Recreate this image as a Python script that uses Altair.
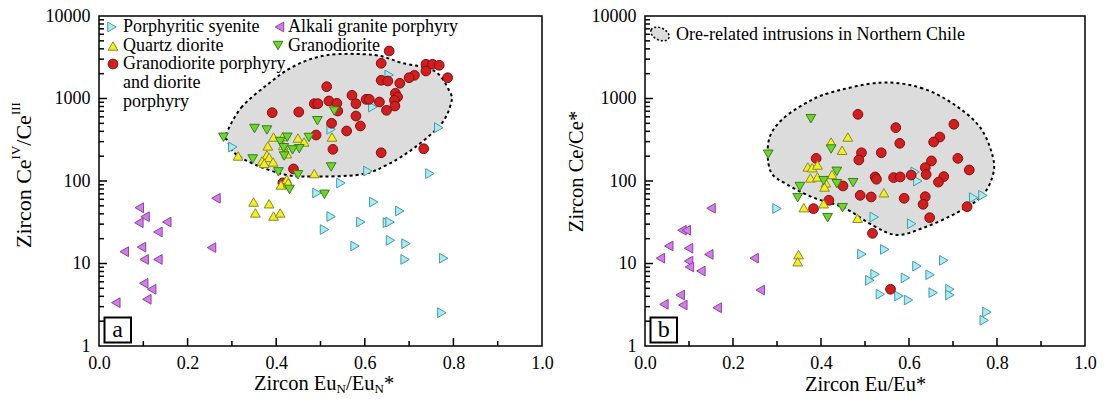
import altair as alt
import pandas as pd

# ---------------- data ----------------
# Panel a: Zircon EuN/EuN* vs Ce(IV)/Ce(III)
a_syen_x = [0.302, 0.618, 0.655, 0.524, 0.767, 0.607, 0.546, 0.747, 0.492, 0.620, 0.679,
            0.524, 0.591, 0.651, 0.657, 0.509, 0.578, 0.658, 0.693, 0.691, 0.778, 0.774]
a_syen_y = [258, 789, 1928, 423, 443, 132, 94.5, 123, 71.6, 55.6, 43.3,
            37.1, 31.8, 31.2, 31.8, 25.8, 16.3, 19.1, 17.4, 11.2, 11.6, 2.53]

a_alk_x = [0.091, 0.104, 0.090, 0.153, 0.133, 0.264, 0.057, 0.096, 0.102, 0.133, 0.254,
           0.101, 0.119, 0.108, 0.038]
a_alk_y = [47.5, 36.9, 31.2, 31.8, 24.1, 61.7, 13.9, 15.8, 11.2, 11.2, 15.6,
           5.75, 4.87, 3.68, 3.35]

a_qd_x = [0.526, 0.394, 0.415, 0.449, 0.463, 0.381, 0.416, 0.424, 0.379, 0.384, 0.314, 0.368,
          0.373, 0.393, 0.486, 0.424, 0.411, 0.427, 0.349, 0.384, 0.353, 0.394, 0.409]
a_qd_y = [341, 341, 346, 332, 297, 266, 269, 214, 207, 193, 201, 175,
          164, 170, 123, 105, 89.5, 95, 55.6, 53, 41, 37.6, 41]

a_gd_x = [0.531, 0.493, 0.351, 0.379, 0.281, 0.425, 0.474, 0.409, 0.452, 0.437, 0.417,
          0.418, 0.347, 0.405, 0.449, 0.524, 0.430, 0.509]
a_gd_y = [705, 538, 433, 415, 339, 339, 337, 301, 246, 238, 253,
          201, 185, 129, 119, 148, 79, 69]

a_gp_x = [0.655, 0.637, 0.738, 0.753, 0.768, 0.738, 0.787, 0.712, 0.700, 0.637,
          0.652, 0.679, 0.514, 0.669, 0.674, 0.571, 0.603, 0.610, 0.633, 0.667,
          0.519, 0.537, 0.580, 0.486, 0.494, 0.668, 0.649, 0.539, 0.391, 0.451,
          0.580, 0.525, 0.590, 0.559, 0.490, 0.528, 0.637, 0.733, 0.439, 0.415]
a_gp_y = [3767, 2672, 2600, 2600, 2525, 2154, 1786, 1910, 1786, 1662,
          1630, 1528, 1390, 1156, 1043, 1093, 977, 977, 907, 951,
          933, 875, 865, 865, 865, 811, 719, 705, 673, 686,
          613, 501, 464, 404, 361, 242, 220, 246, 140, 95]

a_reg_x = [0.287, 0.321, 0.381, 0.441, 0.516, 0.621, 0.682, 0.757, 0.791, 0.795,
           0.772, 0.712, 0.652, 0.591, 0.479, 0.418, 0.351, 0.305, 0.291]
a_reg_y = [368, 773, 1487, 2477, 3365, 3365, 2716, 2154, 1233, 889,
           487, 253, 159, 120, 113, 120, 159, 220, 305]

# Panel b: Zircon Eu/Eu* vs Ce/Ce*
b_syen_x = [0.300, 0.521, 0.606, 0.620, 0.614, 0.747, 0.768, 0.493, 0.545, 0.679, 0.511, 0.523,
            0.535, 0.577, 0.599, 0.618, 0.592, 0.648, 0.655, 0.693, 0.693, 0.777, 0.771]
b_syen_y = [46.4, 36.6, 30.3, 100, 129, 62.8, 67.1, 13.0, 14.8, 10.9, 6.26, 7.4,
            4.24, 4.04, 3.61, 9.3, 6.7, 7.3, 4.43, 4.87, 4.15, 2.58, 2.05]

b_alk_x = [0.150, 0.084, 0.094, 0.054, 0.099, 0.145, 0.035, 0.099, 0.101, 0.127, 0.248,
           0.262, 0.080, 0.043, 0.086, 0.164]
b_alk_y = [46.7, 25.3, 25.3, 16.3, 15.3, 12.9, 11.6, 10.7, 9.07, 8.11, 11.6,
           4.77, 4.15, 3.20, 3.14, 2.91]

b_qd_x = [0.423, 0.461, 0.448, 0.370, 0.380, 0.392, 0.376, 0.392, 0.411, 0.408, 0.425,
          0.543, 0.361, 0.406, 0.483, 0.349, 0.347]
b_qd_y = [297, 341, 236, 148, 145, 156, 109, 112, 95, 84.6, 120,
          72, 47.5, 53, 35.3, 12.8, 10.5]

b_gd_x = [0.377, 0.280, 0.423, 0.436, 0.406, 0.473, 0.436, 0.352, 0.347, 0.449, 0.415]
b_gd_y = [569, 211, 244, 131, 101, 95.4, 92.7, 85.7, 62.8, 47.5, 35.9]

b_gp_x = [0.484, 0.570, 0.579, 0.702, 0.670, 0.656, 0.492, 0.486, 0.537, 0.389,
          0.711, 0.737, 0.651, 0.637, 0.639, 0.679, 0.667, 0.605, 0.565, 0.580,
          0.523, 0.526, 0.450, 0.489, 0.514, 0.589, 0.637, 0.632, 0.418, 0.383,
          0.732, 0.647, 0.517, 0.558]
b_gp_y = [643, 443, 286, 487, 341, 297, 220, 180, 220, 188,
          188, 136, 175, 145, 120, 113, 97, 118, 110, 112,
          112, 105, 87, 67, 64, 61.7, 64.5, 52.2, 58.4, 46.2,
          48.8, 35.9, 23.2, 4.87]

b_reg_x = [0.535, 0.626, 0.702, 0.762, 0.791, 0.789, 0.762, 0.702, 0.633, 0.573,
           0.520, 0.452, 0.383, 0.323, 0.285, 0.281, 0.308, 0.361, 0.421]
b_reg_y = [1557, 1352, 851, 443, 192, 110, 62.8, 39.5, 27.1, 22.2,
           28.5, 47.5, 62.8, 91, 132, 305, 534, 851, 1176]

# axis ticks / labels
x_label_vals = [0.0, 0.2, 0.4, 0.6, 0.8, 1.0]
x_major = [0.2, 0.4, 0.6, 0.8]
x_minor = [0.1, 0.3, 0.5, 0.7, 0.9]
y_label_vals = [1, 10, 100, 1000, 10000]
y_major = [10, 100, 1000]
y_minor = [m * d for d in [1, 10, 100, 1000] for m in range(2, 10)]

legend_a_names = ["Porphyritic syenite", "Alkali granite porphyry", "Quartz diorite",
                  "Granodiorite", "Granodiorite porphyry", "and diorite", "porphyry"]
legend_b_name = "Ore-related intrusions in Northern Chile"

# ---------------- styling ----------------
FONT = "'Liberation Serif', 'Times New Roman', 'DejaVu Serif', serif"
WA, WB, H = 443, 440, 330
SIZE = 95

STYLE = {
    "syen": dict(shape="triangle-right", fill="#a6ecf3", stroke="#4f98a3"),
    "alk": dict(shape="triangle-left", fill="#d47ce8", stroke="#8a44a3"),
    "qd": dict(shape="triangle-up", fill="#f4ef1e", stroke="#8b8a2b"),
    "gd": dict(shape="triangle-down", fill="#6dd62d", stroke="#3b7d1d"),
    "gp": dict(shape="circle", fill="#d21e1e", stroke="#7d1111"),
}

xs = alt.Scale(domain=[0, 1], nice=False, zero=False)
ys = alt.Scale(type="log", domain=[1, 10000], nice=False)
ONE = pd.DataFrame({"k": [0]})


def axis_x(title=None):
    kw = dict(values=x_label_vals, format=".1f", ticks=False, tickSize=0, domain=False,
              grid=False, labelFont=FONT, labelFontSize=18, labelColor="black",
              labelPadding=8.5, labelFlush=False, labelOverlap=False)
    if title:
        kw.update(title=title, titleFont=FONT, titleFontSize=20.5, titleFontWeight="normal",
                  titleColor="black", titleBaseline="alphabetic", titleY=44)
    else:
        kw.update(title="")
    return alt.Axis(**kw)


def axis_y(title=None):
    kw = dict(values=y_label_vals, format="d", ticks=False, tickSize=0, domain=False,
              grid=False, labelFont=FONT, labelFontSize=18, labelColor="black",
              labelPadding=9, labelFlush=False, labelOverlap=False)
    if title:
        kw.update(title=title, titleFont=FONT, titleFontSize=20.5, titleFontWeight="normal",
                  titleColor="black", titleAngle=270, titleBaseline="alphabetic",
                  titleAlign="center", titleX=-63, titleY=155)
    else:
        kw.update(title="")
    return alt.Axis(**kw)


def make_panel(xt, yt):
    AX, AY = axis_x(xt), axis_y(yt)

    def enc_x(field):
        return alt.X(field, type="quantitative", scale=xs, axis=AX)

    def enc_y(field):
        return alt.Y(field, type="quantitative", scale=ys, axis=AY)

    def region(xv, yv):
        df = pd.DataFrame({"x": xv, "y": yv, "i": list(range(len(xv)))})
        return alt.Chart(df).mark_line(
            interpolate="cardinal-closed", fill="#dcdcdc", stroke="black",
            strokeWidth=2, strokeDash=[3, 3]
        ).encode(x=enc_x("x"), y=enc_y("y"), order=alt.Order("i:Q"))

    def pts(xv, yv, key):
        st = STYLE[key]
        df = pd.DataFrame({"x": xv, "y": yv})
        return alt.Chart(df).mark_point(
            shape=st["shape"], size=SIZE, filled=True, fill=st["fill"], stroke=st["stroke"],
            strokeWidth=1, opacity=1, fillOpacity=1
        ).encode(x=enc_x("x"), y=enc_y("y"))

    def ticks():
        layers = []
        for vals, ln in [(x_major, 8), (x_minor, 5)]:
            layers.append(alt.Chart(pd.DataFrame({"x": vals})).mark_rule(color="black", strokeWidth=1.5)
                          .encode(x=enc_x("x"), y=alt.value(H), y2=alt.value(H - ln)))
        for vals, ln in [(y_major, 8), (y_minor, 5)]:
            layers.append(alt.Chart(pd.DataFrame({"y": vals})).mark_rule(color="black", strokeWidth=1.5)
                          .encode(y=enc_y("y"), x=alt.value(0), x2=alt.value(ln)))
        return layers

    return region, pts, ticks


def txt(s, x, y, size, angle=0, align="left", baseline="alphabetic"):
    return alt.Chart(ONE).mark_text(
        text=s, font=FONT, fontSize=size, angle=angle, align=align, baseline=baseline, color="black"
    ).encode(x=alt.value(x), y=alt.value(y))


def sym(key, x, y):
    st = STYLE[key]
    return alt.Chart(ONE).mark_point(
        shape=st["shape"], size=SIZE, filled=True, fill=st["fill"], stroke=st["stroke"],
        strokeWidth=1, opacity=1
    ).encode(x=alt.value(x), y=alt.value(y))


def label_box(letter):
    box = alt.Chart(ONE).mark_rect(fill="white", stroke="black", strokeWidth=2).encode(
        x=alt.value(5.5), x2=alt.value(32), y=alt.value(301.5), y2=alt.value(326.5))
    return [box, txt(letter, 18.7, 321, 24, align="center")]


# ---------------- panel a ----------------
region_a, pts_a, ticks_a = make_panel(None, None)
layers_a = [region_a(a_reg_x, a_reg_y)] + ticks_a() + [
    pts_a(a_syen_x, a_syen_y, "syen"),
    pts_a(a_gp_x, a_gp_y, "gp"),
    pts_a(a_qd_x, a_qd_y, "qd"),
    pts_a(a_gd_x, a_gd_y, "gd"),
    pts_a(a_alk_x, a_alk_y, "alk"),
    # legend
    sym("syen", 13, 11), txt(legend_a_names[0], 24, 15.7, 18),
    sym("alk", 180.5, 11), txt(legend_a_names[1], 189, 15.7, 18),
    sym("qd", 14, 30), txt(legend_a_names[2], 24, 34.5, 18),
    sym("gd", 179, 29.5), txt(legend_a_names[3], 189, 34.5, 18),
    sym("gp", 14, 48), txt(legend_a_names[4], 24, 53.3, 18),
    txt(legend_a_names[5], 24, 72.2, 18),
    txt(legend_a_names[6], 24, 91, 18),
] + label_box("a") + [
    # x title: Zircon EuN/EuN*
    txt("Zircon Eu", 155, 374, 20.5),
    txt("N", 237.6, 377, 13),
    txt("/Eu", 247, 374, 20.5),
    txt("N", 275.5, 377, 13),
    txt("*", 284.9, 374, 20.5),
    # y title: Zircon CeIV/CeIII
    txt("Zircon Ce", -68, 232, 22, angle=270),
    txt("IV", -79, 143.4, 13, angle=270),
    txt("/Ce", -68, 129.7, 22, angle=270),
    txt("III", -79, 99.1, 13, angle=270),
]
panel_a = alt.layer(*layers_a).properties(width=WA, height=H)

# ---------------- panel b ----------------
region_b, pts_b, ticks_b = make_panel("Zircon Eu/Eu*", "Zircon Ce/Ce*")
ellipse = "M -1 0 A 1 0.62 0 1 1 1 0 A 1 0.62 0 1 1 -1 0 Z"
layers_b = [region_b(b_reg_x, b_reg_y)] + ticks_b() + [
    pts_b(b_syen_x, b_syen_y, "syen"),
    pts_b(b_gp_x, b_gp_y, "gp"),
    pts_b(b_qd_x, b_qd_y, "qd"),
    pts_b(b_gd_x, b_gd_y, "gd"),
    pts_b(b_alk_x, b_alk_y, "alk"),
    alt.Chart(ONE).mark_point(shape=ellipse, size=380, filled=True, fill="#dcdcdc", stroke="black",
                              strokeWidth=1.5, strokeDash=[2, 2], angle=25, opacity=1)
    .encode(x=alt.value(15), y=alt.value(18)),
    txt(legend_b_name, 31, 23.5, 18),
] + label_box("b")
panel_b = alt.layer(*layers_b).properties(width=WB, height=H)

chart = alt.hconcat(panel_a, panel_b, spacing=11).properties(
    padding={"left": 9, "top": 6, "right": 5, "bottom": 0},
    background="white",
).configure_view(stroke="black", strokeWidth=1.5)

chart.save("out.html", embed_options={"renderer": "svg", "actions": False})
